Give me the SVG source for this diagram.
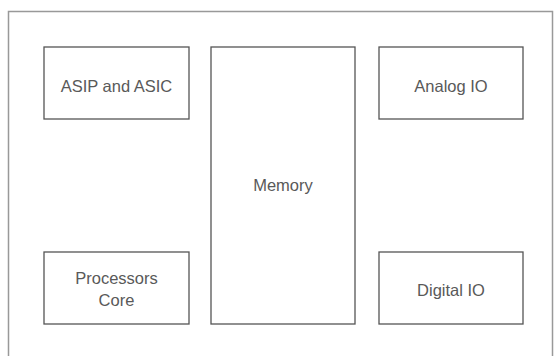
<svg xmlns="http://www.w3.org/2000/svg" width="554" height="356" viewBox="0 0 554 356">
<style>
.box{fill:#fff;stroke:#555;stroke-width:1.3}
.lbl{font-family:"Liberation Sans",Arial,sans-serif;font-size:16.5px;fill:#595959;text-anchor:middle;dominant-baseline:central}
</style>
<rect x="0" y="0" width="554" height="356" fill="#fff"/>
<rect x="8.5" y="11.5" width="544" height="360" fill="#fff" stroke="#999" stroke-width="1.5"/>
<g id="asip">
<rect class="box" x="44" y="47" width="145" height="72"/>
<text class="lbl" x="116.5" y="86">ASIP and ASIC</text>
</g>
<g id="memory">
<rect class="box" x="211" y="47" width="144" height="277"/>
<text class="lbl" x="283" y="185">Memory</text>
</g>
<g id="analog">
<rect class="box" x="379" y="47" width="144" height="72"/>
<text class="lbl" x="451" y="86">Analog IO</text>
</g>
<g id="processors">
<rect class="box" x="44" y="252" width="145" height="72"/>
<text class="lbl" x="116.5" y="278">Processors</text>
<text class="lbl" x="116.5" y="300">Core</text>
</g>
<g id="digital">
<rect class="box" x="379" y="252" width="144" height="72"/>
<text class="lbl" x="451" y="290">Digital IO</text>
</g>
<g id="connectors"></g>
</svg>
